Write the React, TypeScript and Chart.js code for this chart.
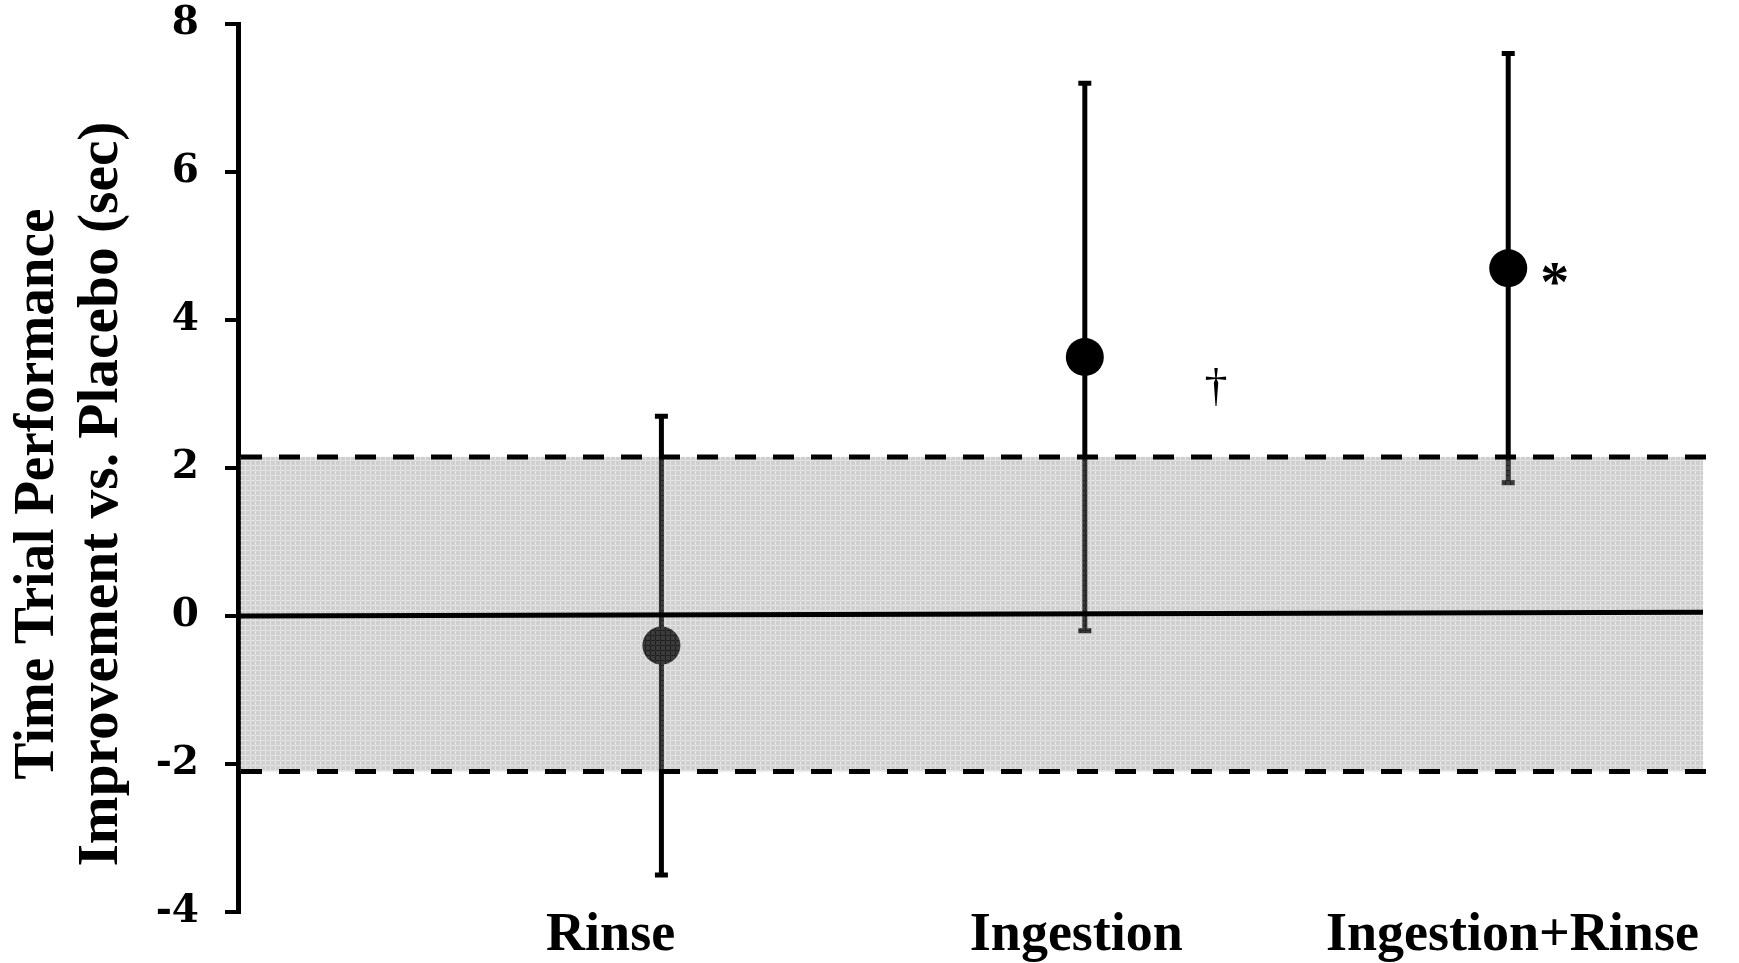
import React, { useEffect, useRef } from "react";
import { Chart, registerables } from "chart.js";

Chart.register(...registerables);

// ---- data ----
const categories = ["Rinse", "Ingestion", "Ingestion+Rinse"];
const categoryX = [1, 2, 3];
const labelX = [0.88, 1.98, 3.01];
const means = [-0.4, 3.5, 4.7];
const upperCI = [2.7, 7.2, 7.6];
const lowerCI = [-3.5, -0.2, 1.8];
const bandUpper = 2.15;
const bandLower = -2.1;
const zeroLineY = [0, 0.05];
const markerText = ["†", "*"];
const markerX = [2.31, 3.11];
const markerY = [3.1, 4.63];
const markerBold = [false, true];
const yTicks = [-4, -2, 0, 2, 4, 6, 8];
const titleLines = ["Time Trial Performance", "Improvement vs. Placebo (sec)"];

const X_MAX = 3.46;
const WORD_FONT = "'Liberation Serif', 'Times New Roman', serif";
const NUM_FONT = "'DejaVu Serif', serif";

function makeBandPattern(ctx: CanvasRenderingContext2D) {
  const tile = document.createElement("canvas");
  tile.width = 5;
  tile.height = 5;
  const t = tile.getContext("2d")!;
  t.fillStyle = "rgba(140,140,140,0.42)";
  t.fillRect(0, 0, 5, 5);
  t.clearRect(0, 0, 5, 1);
  t.clearRect(0, 0, 1, 5);
  t.fillStyle = "rgba(140,140,140,0.22)";
  t.fillRect(0, 0, 5, 1);
  t.fillRect(0, 0, 1, 5);
  return ctx.createPattern(tile, "repeat");
}

const errorBarPlugin = {
  id: "errorBars",
  beforeDatasetsDraw(chart: any) {
    const { ctx, scales } = chart;
    const xs = scales.x;
    const ys = scales.y;
    ctx.save();
    ctx.strokeStyle = "#000";
    ctx.lineWidth = 5;
    ctx.lineCap = "butt";
    for (let i = 0; i < categories.length; i++) {
      const px = xs.getPixelForValue(categoryX[i]);
      const pTop = ys.getPixelForValue(upperCI[i]);
      const pBot = ys.getPixelForValue(lowerCI[i]);
      ctx.beginPath();
      ctx.moveTo(px, pTop);
      ctx.lineTo(px, pBot);
      ctx.moveTo(px - 6.5, pTop);
      ctx.lineTo(px + 6.5, pTop);
      ctx.moveTo(px - 6.5, pBot);
      ctx.lineTo(px + 6.5, pBot);
      ctx.stroke();
    }
    ctx.restore();
  },
};

const overlayPlugin = {
  id: "overlay",
  afterDatasetsDraw(chart: any) {
    const { ctx, scales, chartArea } = chart;
    const xs = scales.x;
    const ys = scales.y;
    const left = chartArea.left;
    const right = xs.getPixelForValue(X_MAX);
    const yTop = ys.getPixelForValue(bandUpper);
    const yBot = ys.getPixelForValue(bandLower);
    ctx.save();
    // shaded band (drawn over the marks, semi-transparent)
    ctx.fillStyle = makeBandPattern(ctx) || "rgba(150,150,150,0.4)";
    ctx.fillRect(left + 2, yTop, right - left - 2, yBot - yTop);
    // zero reference line
    ctx.strokeStyle = "#000";
    ctx.lineWidth = 5;
    ctx.beginPath();
    ctx.moveTo(xs.getPixelForValue(0), ys.getPixelForValue(zeroLineY[0]));
    ctx.lineTo(right, ys.getPixelForValue(zeroLineY[1]));
    ctx.stroke();
    // dashed limits
    ctx.lineWidth = 5;
    ctx.setLineDash([21, 17]);
    ctx.beginPath();
    ctx.moveTo(left + 3, yTop);
    ctx.lineTo(right + 5, yTop);
    ctx.moveTo(left + 3, yBot);
    ctx.lineTo(right + 5, yBot);
    ctx.stroke();
    ctx.setLineDash([]);
    // significance markers
    ctx.fillStyle = "#000";
    ctx.textAlign = "center";
    ctx.textBaseline = "middle";
    for (let i = 0; i < markerText.length; i++) {
      ctx.font = (markerBold[i] ? "bold 58px " : "46px ") + WORD_FONT;
      ctx.fillText(
        markerText[i],
        xs.getPixelForValue(markerX[i]),
        ys.getPixelForValue(markerY[i]) + (markerBold[i] ? 13 : 2)
      );
    }
    ctx.restore();
  },
  afterDraw(chart: any) {
    const { ctx } = chart;
    ctx.save();
    ctx.fillStyle = "#000";
    ctx.font = "bold 56px " + WORD_FONT;
    ctx.textAlign = "center";
    ctx.textBaseline = "alphabetic";
    const baselines = [53, 117];
    const stretch = [0.985, 1.025];
    titleLines.forEach((line, i) => {
      ctx.save();
      ctx.translate(baselines[i], 494);
      ctx.rotate(-Math.PI / 2);
      ctx.scale(stretch[i], 1);
      ctx.fillText(line, 0, 0);
      ctx.restore();
    });
    ctx.restore();
  },
};

export default function App() {
  const canvasRef = useRef<HTMLCanvasElement | null>(null);

  useEffect(() => {
    if (!canvasRef.current) return;
    const chart = new Chart(canvasRef.current, {
      type: "scatter",
      data: {
        datasets: [
          {
            label: "Mean",
            data: categoryX.map((x, i) => ({ x, y: means[i] })),
            backgroundColor: "#000",
            borderColor: "#000",
            borderWidth: 0,
            pointRadius: 19,
            pointHoverRadius: 19,
          },
        ],
      },
      options: {
        animation: false,
        responsive: true,
        maintainAspectRatio: false,
        layout: { autoPadding: false, padding: { top: 0, right: 36, left: 0, bottom: 0 } },
        plugins: {
          legend: { display: false },
          tooltip: { enabled: false },
        },
        scales: {
          x: {
            type: "linear",
            min: 0,
            max: X_MAX,
            afterFit: (s: any) => {
              s.height = 51;
              s.paddingLeft = 0;
              s.paddingRight = 0;
            },
            afterBuildTicks: (s: any) => {
              s.ticks = labelX.map((v) => ({ value: v }));
            },
            grid: { display: false, drawTicks: false },
            border: { display: false },
            ticks: {
              autoSkip: false,
              maxRotation: 0,
              padding: -8,
              color: "#000",
              font: { family: WORD_FONT, size: 54, weight: "bold" },
              callback: (_v: any, i: number) => categories[i],
            },
          },
          y: {
            type: "linear",
            min: -4,
            max: 8,
            afterFit: (s: any) => {
              s.width = 238;
              s.paddingTop = 24;
              s.paddingBottom = 0;
            },
            afterBuildTicks: (s: any) => {
              s.ticks = yTicks.map((v) => ({ value: v }));
            },
            grid: {
              display: true,
              drawOnChartArea: false,
              drawTicks: true,
              tickLength: 13,
              color: "#000",
              lineWidth: 4,
            },
            border: { display: true, color: "#000", width: 5 },
            ticks: {
              padding: 26,
              color: "#000",
              font: { family: NUM_FONT, size: 39, weight: "bold" },
              callback: (v: any) => String(v),
            },
          },
        },
      },
      plugins: [errorBarPlugin, overlayPlugin],
    });
    return () => chart.destroy();
  }, []);

  return (
    <div style={{ position: "fixed", left: 0, top: 0, width: 1739, height: 963, background: "#fff" }}>
      <canvas ref={canvasRef} />
    </div>
  );
}
